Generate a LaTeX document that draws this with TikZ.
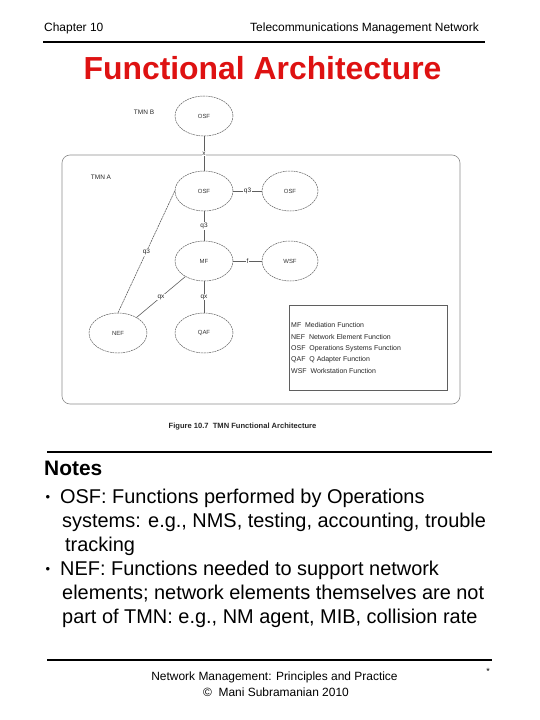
\documentclass[tikz,border=0pt]{standalone}
\usepackage{fontspec}
\setmainfont{Liberation Sans}
\usetikzlibrary{shapes.geometric}
\definecolor{titlered}{RGB}{222,18,18}
\definecolor{diag}{RGB}{95,95,95}
\definecolor{frame}{RGB}{140,140,140}
\begin{document}
\begin{tikzpicture}[x=1bp,y=-1bp,
  fn/.style={ellipse, draw=diag, line width=0.5bp, dash pattern=on 2bp off 0.7bp,
    minimum width=58bp, minimum height=40bp, inner sep=0pt,
    font=\fontsize{6}{7}\selectfont, text=black!80},
  lnk/.style={draw=diag, line width=0.6bp},
  lbl/.style={fill=white, inner sep=0.8bp, font=\fontsize{6.5}{7}\selectfont, text=black!85},
  tmn/.style={font=\fontsize{6.5}{7}\selectfont, text=black!85},
  hdr/.style={font=\fontsize{12}{14}\selectfont, inner sep=0pt},
  body/.style={font=\fontsize{20}{24}\selectfont, inner sep=0pt, anchor=base west},
  bul/.style={font=\fontsize{13}{14}\selectfont, inner sep=0pt, anchor=base},
  rule/.style={line width=2.2bp, black}]
\useasboundingbox (0,0) rectangle (540,720);
% header
\node[hdr, anchor=base west] (chap) at (44,32) {Chapter 10};
\node[hdr, anchor=base east] (tmnh) at (479,32) {Telecommunications Management Network};
\draw[rule] (43,42) -- (485,42);
\node[font=\bfseries\fontsize{32}{36}\selectfont, text=titlered, anchor=base, inner sep=0pt] (title) at (262.5,79.5) {Functional Architecture};
% diagram frame
\draw[frame, line width=0.6bp, rounded corners=8bp] (62,155) rectangle (460,404);
\node[tmn] (tmnb) at (144,112) {TMN B};
\node[tmn] (tmna) at (101,177) {TMN A};
% functions
\node[fn] (osfb) at (204,116) {OSF};
\node[fn] (osfa) at (204,191) {OSF};
\node[fn, minimum width=56bp] (osfc) at (290,191) {OSF};
\node[fn] (mf) at (204,261) {MF};
\node[fn, minimum width=56bp] (wsf) at (290,261) {WSF};
\node[fn] (nef) at (118,333) {NEF};
\node[fn] (qaf) at (204,333) {QAF};
% reference points
\draw[lnk] (osfb) -- node[lbl] {x} (osfa);
\draw[lnk] (osfa) -- node[lbl] {q3} (osfc);
\draw[lnk] (osfa) -- node[lbl] {q3} (mf);
\draw[lnk] (mf) -- node[lbl] {f} (wsf);
\draw[lnk] (mf) -- node[lbl] {qx} (qaf);
\draw[lnk] (mf) -- node[lbl] {qx} (nef);
\draw[lnk, dash pattern=on 2bp off 0.7bp] (osfa.west) -- node[lbl] {q3} (nef.north);
% legend
\draw[diag, line width=0.7bp] (289,305) rectangle (447,390);
\node[anchor=west, align=left, inner sep=0pt, text=black!85,
  font=\fontsize{7}{11.5}\selectfont] (legend) at (291,348)
  {MF\ \ Mediation Function\\NEF\ \ Network Element Function\\OSF\ \ Operations Systems Function\\QAF\ \ Q Adapter Function\\WSF\ \ Workstation Function};
\node[font=\bfseries\fontsize{7.6}{9}\selectfont, text=black!85] (cap) at (242.5,427) {Figure 10.7\ \ TMN Functional Architecture};
% notes
\draw[rule] (47,452) -- (492,452);
\node[font=\bfseries\fontsize{21}{24}\selectfont, anchor=base west, inner sep=0pt] (notes) at (44,475.5) {Notes};
\node[bul] (b1) at (48,501) {•};
\node[body] (l1) at (60,503) {OSF: Functions performed by Operations};
\node[body] (l2) at (62,527) {systems: e.g., NMS, testing, accounting, trouble};
\node[body] (l3) at (65,551) {tracking};
\node[bul] (b2) at (48,573) {•};
\node[body] (l4) at (60,575) {NEF: Functions needed to support network};
\node[body] (l5) at (62,599) {elements; network elements themselves are not};
\node[body] (l6) at (62,623) {part of TMN: e.g., NM agent, MIB, collision rate};
% footer
\draw[rule] (47,660) -- (492,660);
\node[font=\fontsize{9}{10}\selectfont, inner sep=0pt] (star) at (488,671) {*};
\node[hdr, anchor=base] (f1) at (274.5,680) {Network Management: Principles and Practice};
\node[hdr, anchor=base] (f2) at (276,696) {©\ \ Mani Subramanian 2010};
\end{tikzpicture}
\end{document}
